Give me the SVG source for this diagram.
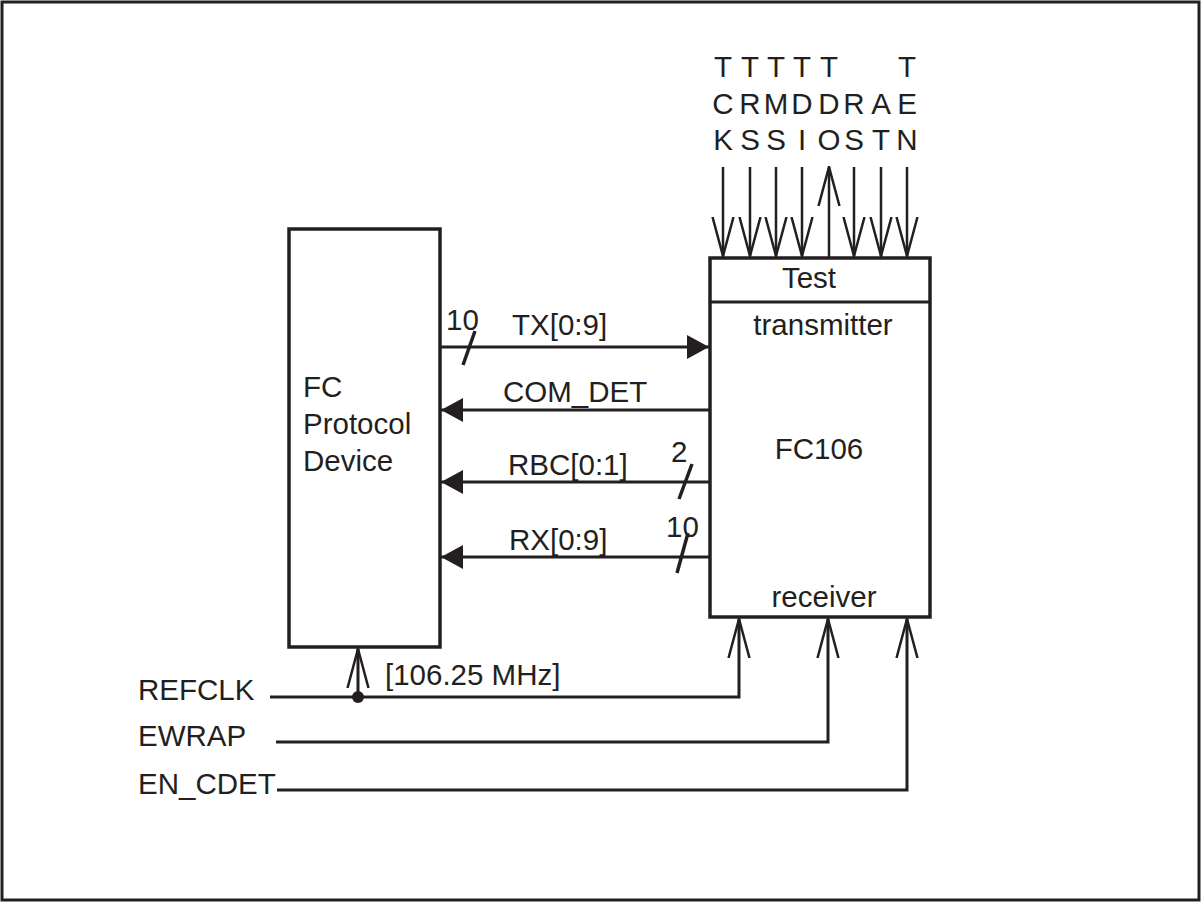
<svg xmlns="http://www.w3.org/2000/svg" width="1201" height="902" viewBox="0 0 1201 902">
<style>
text{font-family:"Liberation Sans",Arial,sans-serif;font-size:29.5px;fill:#231f20}
.box{fill:#fff;stroke:#231f20;stroke-width:3.5}
.ln{fill:none;stroke:#231f20;stroke-width:3}
.sl{fill:none;stroke:#231f20;stroke-width:3.5}
.tl{fill:none;stroke:#231f20;stroke-width:2.5}
.mid{text-anchor:middle}
</style>
<defs>
<marker id="fa" viewBox="0 0 22 24" refX="22" refY="12" markerWidth="22" markerHeight="24" markerUnits="userSpaceOnUse" orient="auto">
<path d="M0,0 L22,12 L0,24 Z" fill="#231f20"/>
</marker>
<marker id="oa" viewBox="0 0 40 24" refX="39" refY="12" markerWidth="40" markerHeight="24" markerUnits="userSpaceOnUse" orient="auto">
<path d="M0,1.5 L39,12 L0,22.5" fill="none" stroke="#231f20" stroke-width="2.5"/>
</marker>
</defs>
<rect x="2" y="2" width="1197" height="898" fill="#fff" stroke="#231f20" stroke-width="3"/>
<g id="fc-protocol-device">
<rect class="box" x="289" y="229" width="151" height="418"/>
<text x="303" y="397">FC</text>
<text x="303" y="434">Protocol</text>
<text x="303" y="471">Device</text>
</g>
<g id="fc106">
<rect class="box" x="710" y="258" width="220" height="359"/>
<line x1="710" y1="302" x2="930" y2="302" stroke="#231f20" stroke-width="3"/>
<text class="mid" x="809" y="288">Test</text>
<text class="mid" x="823" y="335">transmitter</text>
<text class="mid" x="819" y="459">FC106</text>
<text class="mid" x="824" y="607">receiver</text>
</g>
<g id="test-labels">
<text class="mid" x="723" y="77">T</text>
<text class="mid" x="750" y="77">T</text>
<text class="mid" x="776" y="77">T</text>
<text class="mid" x="802" y="77">T</text>
<text class="mid" x="829" y="77">T</text>
<text class="mid" x="907" y="77">T</text>
<text class="mid" x="723" y="114">C</text>
<text class="mid" x="750" y="114">R</text>
<text class="mid" x="776" y="114">M</text>
<text class="mid" x="802" y="114">D</text>
<text class="mid" x="829" y="114">D</text>
<text class="mid" x="854" y="114">R</text>
<text class="mid" x="881" y="114">A</text>
<text class="mid" x="907" y="114">E</text>
<text class="mid" x="723" y="150">K</text>
<text class="mid" x="750" y="150">S</text>
<text class="mid" x="776" y="150">S</text>
<text class="mid" x="802" y="150">I</text>
<text class="mid" x="829" y="150">O</text>
<text class="mid" x="854" y="150">S</text>
<text class="mid" x="881" y="150">T</text>
<text class="mid" x="907" y="150">N</text>
</g>
<g id="connectors">
<line class="tl" x1="723" y1="167" x2="723" y2="256" marker-end="url(#oa)"/>
<line class="tl" x1="750" y1="167" x2="750" y2="256" marker-end="url(#oa)"/>
<line class="tl" x1="776" y1="167" x2="776" y2="256" marker-end="url(#oa)"/>
<line class="tl" x1="802" y1="167" x2="802" y2="256" marker-end="url(#oa)"/>
<line class="tl" x1="829" y1="257" x2="829" y2="167" marker-end="url(#oa)"/>
<line class="tl" x1="854" y1="167" x2="854" y2="256" marker-end="url(#oa)"/>
<line class="tl" x1="881" y1="167" x2="881" y2="256" marker-end="url(#oa)"/>
<line class="tl" x1="907" y1="167" x2="907" y2="256" marker-end="url(#oa)"/>

<line class="ln" x1="440" y1="347" x2="709" y2="347" marker-end="url(#fa)"/>
<line class="sl" x1="475" y1="331" x2="463" y2="365"/>
<text x="446" y="330">10</text>
<text x="512" y="335">TX[0:9]</text>

<line class="ln" x1="709" y1="410" x2="441" y2="410" marker-end="url(#fa)"/>
<text x="503" y="402">COM_DET</text>

<line class="ln" x1="709" y1="482" x2="441" y2="482" marker-end="url(#fa)"/>
<line class="sl" x1="692" y1="464" x2="679" y2="499"/>
<text x="508" y="475">RBC[0:1]</text>
<text x="671" y="462">2</text>

<line class="ln" x1="709" y1="557" x2="441" y2="557" marker-end="url(#fa)"/>
<line class="sl" x1="688" y1="533" x2="677" y2="573"/>
<text x="509" y="550">RX[0:9]</text>
<text x="666" y="537">10</text>

<polyline class="ln" points="270,697 739,697 739,619" marker-end="url(#oa)"/>
<line class="ln" x1="358" y1="697" x2="358" y2="649" marker-end="url(#oa)"/>
<circle cx="358" cy="697" r="6" fill="#231f20"/>
<text x="385" y="685">[106.25 MHz]</text>
<text x="138" y="700">REFCLK</text>

<polyline class="ln" points="276,742 828,742 828,619" marker-end="url(#oa)"/>
<text x="138" y="746">EWRAP</text>

<polyline class="ln" points="277,790 907,790 907,619" marker-end="url(#oa)"/>
<text x="138" y="794">EN_CDET</text>
</g>
</svg>
